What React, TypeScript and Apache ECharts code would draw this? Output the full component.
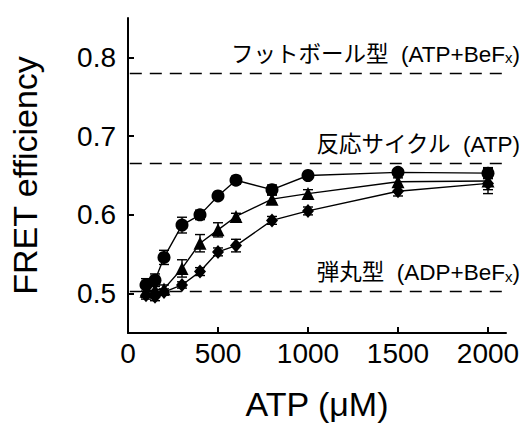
import React, { useEffect, useRef } from "react";
import * as echarts from "echarts";

const atp = [100, 150, 200, 300, 400, 500, 600, 800, 1000, 1500, 2000];
const circleVals = [0.511, 0.517, 0.546, 0.587, 0.6, 0.624, 0.644, 0.632, 0.65, 0.654, 0.653];
const circleErr = [0.008, 0.008, 0.009, 0.01, 0.006, 0.003, 0.005, 0.006, 0.004, 0.004, 0.007];
const triangleVals = [0.503, 0.505, 0.506, 0.532, 0.564, 0.581, 0.598, 0.62, 0.627, 0.642, 0.643];
const triangleErr = [0.008, 0.006, 0.005, 0.011, 0.011, 0.009, 0.004, 0.005, 0.005, 0.005, 0.016];
const diamondVals = [0.498, 0.496, 0.502, 0.511, 0.528, 0.553, 0.561, 0.593, 0.605, 0.63, 0.64];
const diamondErr = [0.005, 0.005, 0.004, 0.004, 0.005, 0.005, 0.008, 0.005, 0.005, 0.006, 0.008];

const xTicks = [0, 500, 1000, 1500, 2000];
const yTicks = [0.5, 0.6, 0.7, 0.8];

const refLevels = [0.78, 0.665, 0.503];
const refLabels = [
  ["フットボール型  (ATP+BeF", "x", ")"],
  ["反応サイクル  (ATP)", "", ""],
  ["弾丸型  (ADP+BeF", "x", ")"],
];

const FONT = "'Liberation Sans', Arial, Helvetica, 'Noto Sans CJK JP', sans-serif";

function errorSeries(vals: number[], errs: number[]) {
  return {
    type: "custom",
    z: 1,
    renderItem: (params: any, api: any) => {
      const x = api.value(0);
      const lo = api.coord([x, api.value(1)]);
      const hi = api.coord([x, api.value(2)]);
      const w = 5;
      const style = { stroke: "#000", lineWidth: 1.4 };
      return {
        type: "group",
        children: [
          { type: "line", shape: { x1: lo[0], y1: lo[1], x2: hi[0], y2: hi[1] }, style },
          { type: "line", shape: { x1: lo[0] - w, y1: lo[1], x2: lo[0] + w, y2: lo[1] }, style },
          { type: "line", shape: { x1: hi[0] - w, y1: hi[1], x2: hi[0] + w, y2: hi[1] }, style },
        ],
      };
    },
    data: atp.map((a, i) => [a, vals[i] - errs[i], vals[i] + errs[i]]),
  };
}

function lineSeries(vals: number[], symbol: string, size: number | number[]) {
  return {
    type: "line",
    z: 3,
    data: atp.map((a, i) => [a, vals[i]]),
    symbol,
    symbolSize: size,
    showSymbol: true,
    itemStyle: { color: "#000" },
    lineStyle: { color: "#000", width: 1.4 },
  };
}

export default function App() {
  const ref = useRef<HTMLDivElement>(null);
  useEffect(() => {
    if (!ref.current) return;
    const chart = echarts.init(ref.current, null, { renderer: "svg" });
    chart.setOption({
      animation: false,
      backgroundColor: "#fff",
      grid: { left: 118, right: 21, top: 18, bottom: 83 },
      xAxis: {
        type: "value",
        min: 0,
        max: 2100,
        name: "ATP (μM)",
        nameLocation: "middle",
        nameGap: 54,
        nameTextStyle: { fontSize: 34, color: "#000", fontFamily: FONT },
        axisLine: { lineStyle: { color: "#000", width: 2 } },
        axisTick: { inside: true, length: 6, lineStyle: { color: "#000", width: 2 }, customValues: xTicks },
        axisLabel: {
          customValues: xTicks,
          fontSize: 28,
          color: "#000",
          fontFamily: FONT,
          margin: 6,
          formatter: (v: number) => String(v),
        },
        splitLine: { show: false },
      },
      yAxis: {
        type: "value",
        min: 0.45,
        max: 0.85,
        name: "FRET efficiency",
        nameLocation: "middle",
        nameGap: 86,
        nameTextStyle: { fontSize: 34, color: "#000", fontFamily: FONT },
        axisLine: { lineStyle: { color: "#000", width: 2 } },
        axisTick: { inside: true, length: 6, lineStyle: { color: "#000", width: 2 }, customValues: yTicks },
        axisLabel: {
          customValues: yTicks,
          fontSize: 28,
          color: "#000",
          fontFamily: FONT,
          margin: 12,
          formatter: (v: number) => v.toFixed(1),
        },
        splitLine: { show: false },
      },
      series: [
        {
          type: "line",
          data: [],
          markLine: {
            silent: true,
            symbol: "none",
            label: { show: false },
            lineStyle: { color: "#000", width: 1.3, type: [12, 8] },
            data: refLevels.map((v) => [
              { coord: [10, v] },
              { coord: [2100, v] },
            ]),
          },
        },
        errorSeries(circleVals, circleErr),
        errorSeries(triangleVals, triangleErr),
        errorSeries(diamondVals, diamondErr),
        lineSeries(diamondVals, "diamond", [12, 14]),
        lineSeries(triangleVals, "triangle", 13),
        lineSeries(circleVals, "circle", 13),
      ],
    });
    const graphics = refLevels.map((v, i) => {
      const p = chart.convertToPixel({ gridIndex: 0 }, [2100, v]) as number[];
      const [a, s, b] = refLabels[i];
      const text = s ? `{a|${a}}{s|${s}}{a|${b}}` : `{a|${a}}`;
      return {
        type: "text",
        x: p[0] + 14,
        y: p[1] - 19,
        style: {
          text,
          align: "right",
          verticalAlign: "middle",
          fill: "#000",
          rich: {
            a: { fontSize: 22.5, fontFamily: FONT, fill: "#000" },
            s: { fontSize: 15, fontFamily: FONT, fill: "#000", verticalAlign: "bottom", padding: [7, 0, 0, 0] },
          },
        },
      };
    });
    chart.setOption({ graphic: graphics });
    return () => chart.dispose();
  }, []);
  return (
    <div
      ref={ref}
      style={{ position: "fixed", left: 0, top: 0, width: 527, height: 426 }}
    />
  );
}
